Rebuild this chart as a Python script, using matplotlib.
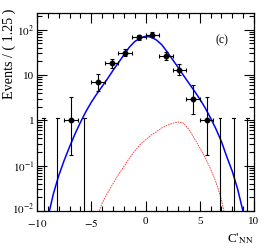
import numpy as np
import matplotlib
matplotlib.use("Agg")
import matplotlib.pyplot as plt
import matplotlib.transforms as mtransforms
from matplotlib.ticker import FixedLocator, FixedFormatter, MultipleLocator

plt.rcParams['font.family'] = ['Liberation Serif', 'DejaVu Serif']
plt.rcParams['mathtext.fontset'] = 'stix'

# data points (bin centres, counts, asymmetric errors)
x_pts = [-6.875, -4.375, -3.125, -1.875, -0.625, 0.625, 1.875, 3.125, 4.375, 5.625]
y_pts = [1, 7, 18, 31, 68, 78, 26, 13, 3, 1]
y_err_lo = [0.827, 2.58, 3.77, 5.09, 7.76, 8.35, 4.62, 3.14, 1.63, 0.827]
y_err_hi = [2.30, 3.58, 4.77, 6.09, 8.76, 9.35, 5.62, 4.14, 2.92, 2.30]
x_half = 0.625

# empty bins (only upper error visible)
x_empty = [-9.375, -8.125, -5.625, 6.875, 8.125, 9.375]
empty_hi = [1.15, 1.15, 1.15, 1.15, 1.15, 1.15]

# total fit curve (blue)
x_fit = [-9.0, -8.5, -8.0, -7.5, -7.0, -6.5, -6.0, -5.5, -5.0, -4.5, -4.0, -3.5,
         -3.0, -2.5, -2.0, -1.5, -1.0, -0.5, 0.0, 0.5, 1.0, 1.5, 2.0, 2.5,
         3.0, 3.5, 4.0, 4.5, 5.0, 5.5, 6.0, 6.5, 7.0, 7.5, 8.0, 8.5, 9.0, 9.5]
y_fit = [0.0071, 0.0235, 0.060, 0.13, 0.26, 0.50, 0.90, 1.55, 2.5, 3.8, 5.6, 8.3,
         12.6, 18.6, 27.6, 40.8, 54.6, 65.5, 71.4, 69.0, 59.4, 46.6, 32.3, 21.8,
         14.8, 9.8, 6.6, 4.46, 2.96, 1.88, 1.12, 0.64, 0.34, 0.155, 0.075, 0.030, 0.0095, 0.0036]

# component curve (red)
x_comp = [-4.5, -4.0, -3.5, -3.0, -2.5, -2.0, -1.5, -1.0, -0.5, 0.0, 0.5, 1.0,
          1.5, 2.0, 2.5, 3.0, 3.5, 4.0, 4.5, 5.0, 5.5, 6.0, 6.5, 7.0, 7.5]
y_comp = [0.007, 0.0148, 0.025, 0.040, 0.063, 0.095, 0.145, 0.21, 0.29, 0.37, 0.47, 0.56,
          0.68, 0.78, 0.86, 0.92, 0.87, 0.63, 0.40, 0.25, 0.15, 0.085, 0.043, 0.0178, 0.005]

ytick_vals = [0.01, 0.1, 1, 10, 100]
ytick_labels = [r'$10^{-2}$', r'$10^{-1}$', '1', '10', r'$10^{2}$']
xtick_vals = [-10, -5, 0, 5, 10]
xtick_labels = [r'$-10$', r'$-5$', '0', '5', '10']

fig = plt.figure(figsize=(2.68, 2.52), dpi=100)
ax = fig.add_axes([37/268, 41/252, 217/268, 198.3/252])

ax.plot(x_fit, y_fit, color='#0000ff', lw=1.1, zorder=3)
ax.plot(x_comp, y_comp, color='#ff3030', lw=0.6, ls=(0, (2, 1)), zorder=2)

ax.errorbar(x_pts, y_pts, yerr=[y_err_lo, y_err_hi], xerr=x_half, fmt='o',
            color='black', ms=3.2, elinewidth=0.8, capsize=1.5, capthick=0.8, zorder=4)
for xe, he in zip(x_empty, empty_hi):
    ax.plot([xe, xe], [0.001, he], color='black', lw=0.8, zorder=4)
    ax.plot([xe - 0.12, xe + 0.12], [he, he], color='black', lw=0.8, zorder=4)

ax.set_yscale('log')
ax.set_xlim(-10, 10)
ax.set_ylim(0.01, 237)
ax.yaxis.set_major_locator(FixedLocator(ytick_vals))
ax.yaxis.set_major_formatter(FixedFormatter(ytick_labels))
minors = [m * 10.0**e for e in range(-2, 3) for m in range(2, 10)]
ax.yaxis.set_minor_locator(FixedLocator(minors))
ax.yaxis.set_minor_formatter(FixedFormatter([''] * len(minors)))
ax.xaxis.set_minor_locator(MultipleLocator(1))
ax.set_xticks(xtick_vals)
ax.set_xticklabels(xtick_labels)

ax.tick_params(which='both', direction='in', top=True, right=True, width=0.8,
               labelsize=8, colors='black')
ax.tick_params(which='major', length=7, pad=2)
ax.tick_params(axis='x', which='major', pad=4)
ax.tick_params(which='minor', length=3.5)
for s in ax.spines.values():
    s.set_linewidth(0.9)

# nudge the lowest y label up slightly so it does not touch the "-10" label
lab0 = ax.get_yticklabels()[0]
lab0.set_transform(lab0.get_transform() + mtransforms.ScaledTranslation(0, 2/72, fig.dpi_scale_trans))

ax.text(0.853, 0.862, '(c)', transform=ax.transAxes, ha='center', va='center', fontsize=8.5)
fig.text(254/268, 10/252, r"C$'_{\mathrm{NN}}$", ha='right', va='baseline', fontsize=9.5)
fig.text(9/268, 1 - 9/252, 'Events / ( 1.25 )', rotation=90, ha='center', va='top', fontsize=10.2)

fig.savefig('out.png', dpi=100)
